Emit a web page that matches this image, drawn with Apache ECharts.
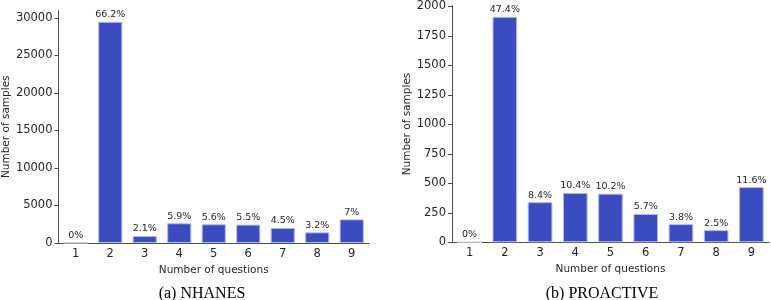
<!DOCTYPE html>
<html>
<head>
<meta charset="utf-8">
<script src="https://cdn.jsdelivr.net/npm/echarts@6/dist/echarts.min.js"></script>
<style>
  html, body { margin: 0; padding: 0; background: #fff; }
  #chart { width: 771px; height: 300px; }
</style>
</head>
<body>
<div id="chart"></div>
<script>
// categories
const questions = ['1', '2', '3', '4', '5', '6', '7', '8', '9'];
// NHANES
const nhanesCounts = [0, 29500, 935, 2630, 2495, 2450, 2005, 1425, 3150];
const nhanesPct = ['0%', '66.2%', '2.1%', '5.9%', '5.6%', '5.5%', '4.5%', '3.2%', '7%'];
const nhanesTicks = [0, 5000, 10000, 15000, 20000, 25000, 30000];
// PROACTIVE
const proactiveCounts = [0, 1911, 340, 418, 412, 240, 154, 103, 468];
const proactivePct = ['0%', '47.4%', '8.4%', '10.4%', '10.2%', '5.7%', '3.8%', '2.5%', '11.6%'];
const proactiveTicks = [0, 250, 500, 750, 1000, 1250, 1500, 1750, 2000];

const txt = '#262626';
const axisCol = '#4d4d4d';
const font = 'DejaVu Sans';

function xAxisOf(idx) {
  return {
    type: 'category',
    gridIndex: idx,
    data: questions,
    name: 'Number of questions',
    nameLocation: 'middle',
    nameGap: 16,
    nameTextStyle: { fontFamily: font, fontSize: 10.5, color: txt },
    axisLine: { lineStyle: { color: axisCol, width: 1 } },
    axisTick: { alignWithLabel: true, length: 4, lineStyle: { color: axisCol } },
    axisLabel: { fontFamily: font, fontSize: 11.5, color: txt, margin: 5 },
  };
}

function yAxisOf(idx, max, ticks, gap) {
  return {
    type: 'value',
    gridIndex: idx,
    min: 0,
    max: max,
    name: 'Number of samples',
    nameLocation: 'middle',
    nameGap: gap,
    nameTextStyle: { fontFamily: font, fontSize: 10.5, color: txt },
    splitLine: { show: false },
    axisLine: { show: true, lineStyle: { color: axisCol, width: 1 } },
    axisTick: { show: true, length: 4, customValues: ticks, lineStyle: { color: axisCol } },
    axisLabel: {
      fontFamily: font, fontSize: 11.5, color: txt, margin: 6, customValues: ticks,
      formatter: (v) => String(v),
    },
  };
}

function barSeries(idx, counts, pct) {
  return {
    type: 'bar',
    xAxisIndex: idx,
    yAxisIndex: idx,
    data: counts,
    barWidth: '70%',
    itemStyle: { color: '#3b4cc0', borderColor: '#b3b9e8', borderWidth: 1 },
    label: {
      show: true,
      position: 'top',
      distance: 2,
      fontFamily: font,
      fontSize: 9.5,
      color: txt,
      formatter: (p) => pct[p.dataIndex],
    },
  };
}

const myChart = echarts.init(document.getElementById('chart'));
const option = {
  animation: false,
  title: [
    {
      text: '(a) NHANES', left: 197, top: 281, textAlign: 'center',
      textStyle: { fontFamily: 'Liberation Serif', fontSize: 16, fontWeight: 'normal', color: '#000' },
    },
    {
      text: '(b) PROACTIVE', left: 597, top: 281, textAlign: 'center',
      textStyle: { fontFamily: 'Liberation Serif', fontSize: 16, fontWeight: 'normal', color: '#000' },
    },
  ],
  grid: [
    { left: 58, width: 311, top: 10.5, height: 232.5 },
    { left: 452, width: 317, top: 5.7, height: 236.6 },
  ],
  xAxis: [xAxisOf(0), xAxisOf(1)],
  yAxis: [yAxisOf(0, 31000, nhanesTicks, 44), yAxisOf(1, 2005, proactiveTicks, 39)],
  series: [barSeries(0, nhanesCounts, nhanesPct), barSeries(1, proactiveCounts, proactivePct)],
};
myChart.setOption(option);
</script>
</body>
</html>
